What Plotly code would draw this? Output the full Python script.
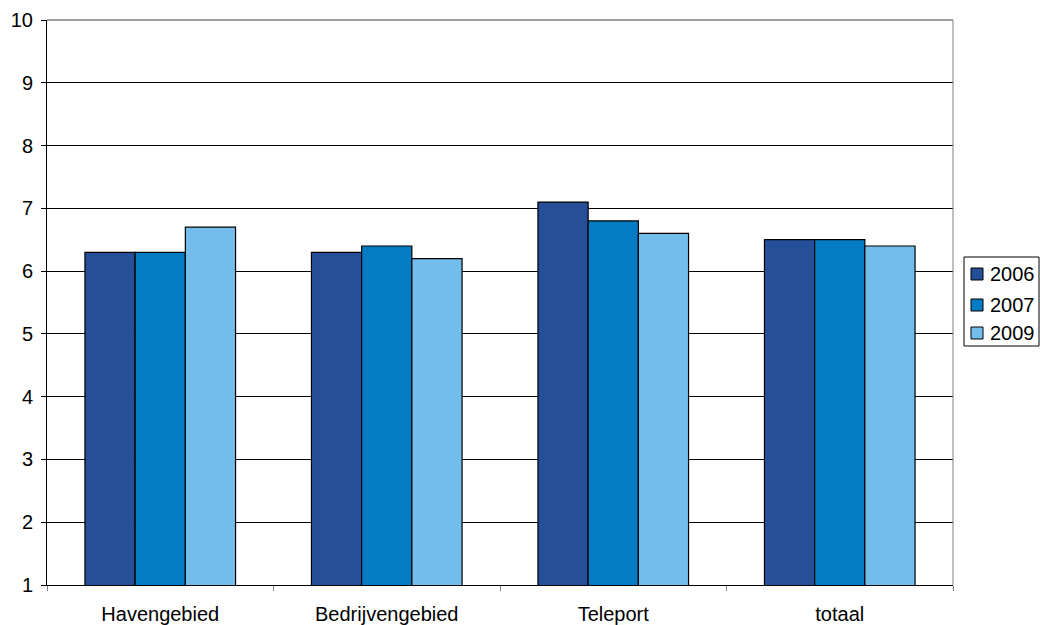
import plotly.graph_objects as go

categories = ["Havengebied", "Bedrijvengebied", "Teleport", "totaal"]
years = ["2006", "2007", "2009"]
values_2006 = [6.3, 6.3, 7.1, 6.5]
values_2007 = [6.3, 6.4, 6.8, 6.5]
values_2009 = [6.7, 6.2, 6.6, 6.4]
colors = ["#264F99", "#037CC4", "#72BDEC"]

W, H = 1040, 625
ML, MR, MT, MB = 47, 87, 20, 40
PW, PH = W - ML - MR, H - MT - MB


def px(x):
    return (x - ML) / PW


def py(y):
    return (H - MB - y) / PH


fig = go.Figure()
for name, vals, col in zip(years, [values_2006, values_2007, values_2009], colors):
    fig.add_trace(go.Bar(
        x=categories, y=vals, name=name,
        marker=dict(color=col, line=dict(color="#000000", width=1.2)),
    ))

font = dict(family="Liberation Sans, Arial, sans-serif", size=20, color="#000000")

fig.update_layout(
    width=W, height=H,
    margin=dict(l=ML, r=MR, t=MT, b=MB, autoexpand=False),
    paper_bgcolor="#FFFFFF", plot_bgcolor="#FFFFFF",
    barmode="group", bargap=0.335, bargroupgap=0,
    font=font,
    showlegend=False,
    xaxis=dict(
        type="category", tickson="boundaries",
        ticks="outside", ticklen=5, tickcolor="#808080",
        ticklabelstandoff=11,
        showline=True, linecolor="#000000", linewidth=1,
        showgrid=False, tickfont=font,
    ),
    yaxis=dict(
        range=[1, 10], dtick=1, tick0=1,
        ticks="outside", ticklen=5, tickcolor="#000000",
        ticklabelstandoff=4,
        showline=True, linecolor="#000000", linewidth=1,
        showgrid=True, gridcolor="#000000", gridwidth=1,
        tickfont=font, zeroline=False,
    ),
)

shapes = [
    # right and top borders of the plot area
    dict(type="line", xref="paper", yref="paper", x0=1, x1=1, y0=0, y1=1,
         line=dict(color="#808080", width=1)),
    dict(type="line", xref="paper", yref="paper", x0=0, x1=1, y0=1, y1=1,
         line=dict(color="#808080", width=1.5)),
    # legend frame
    dict(type="rect", xref="paper", yref="paper",
         x0=px(964), x1=px(1039), y0=py(346), y1=py(257),
         line=dict(color="#000000", width=1), fillcolor="#FFFFFF"),
]
annotations = []
legend_rows = [274, 305, 333]
for name, col, cy in zip(years, colors, legend_rows):
    shapes.append(dict(type="rect", xref="paper", yref="paper",
                       x0=px(971), x1=px(983), y0=py(cy + 6), y1=py(cy - 6),
                       line=dict(color="#000000", width=1), fillcolor=col))
    annotations.append(dict(xref="paper", yref="paper", x=px(988), y=py(cy),
                            xanchor="left", yanchor="middle", showarrow=False,
                            text=name, font=dict(family=font["family"], size=20,
                                                 color="#000000")))

fig.update_layout(shapes=shapes, annotations=annotations)

fig.write_html("out.html")
